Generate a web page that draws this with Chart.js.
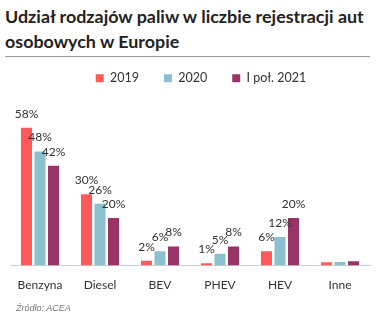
<!DOCTYPE html>
<html lang="pl">
<head>
<meta charset="utf-8">
<script src="https://cdn.jsdelivr.net/npm/chart.js@4"></script>
<style>
  html, body { margin: 0; padding: 0; background: #fff; }
  body { width: 376px; height: 330px; position: relative; overflow: hidden; font-family: Lato, "Open Sans", sans-serif; }
  #title {
    position: absolute; left: 5px; top: 4px; width: 368px;
    font-family: Lato, sans-serif; font-weight: 700; font-size: 17.9px; line-height: 25px;
    color: #222; margin: 0;
  }
  #rule { position: absolute; left: 5px; top: 56px; width: 365px; height: 0; border-top: 1px solid #9a9a9a; }
  #wrap { position: absolute; left: 0; top: 47px; width: 376px; height: 257px; }
  #source {
    position: absolute; left: 16px; top: 303px;
    font-family: "Liberation Sans", Arial, sans-serif; font-style: italic; font-size: 9px; color: #777;
  }
</style>
</head>
<body>
<h1 id="title">Udział rodzajów paliw w liczbie rejestracji aut osobowych w Europie</h1>
<div id="rule"></div>
<div id="wrap"><canvas id="chart"></canvas></div>
<div id="source">Źródło: ACEA</div>
<script>
// Fuel types (categories)
const categories = ["Benzyna", "Diesel", "BEV", "PHEV", "HEV", "Inne"];
// Share of new passenger-car registrations, %
const share2019 = [58, 30, 2, 1, 6, 1.4];
const share2020 = [48, 26, 6, 5, 12, 1.5];
const shareH1_2021 = [42, 20, 8, 8, 20, 1.8];
// Series names
const seriesNames = ["2019", "2020", "I poł. 2021"];
// Categories whose values are not printed above the bars
const unlabeledCategories = ["Inne"];

const colors = ["#ff5a5a", "#8cc0cf", "#9b3466"];

// Draws the percentage value above each bar
const valueLabels = {
  id: "valueLabels",
  afterDatasetsDraw(chart) {
    const ctx = chart.ctx;
    ctx.save();
    ctx.font = "12px Lato, sans-serif";
    ctx.fillStyle = "#333";
    ctx.textAlign = "center";
    ctx.textBaseline = "middle";
    chart.data.datasets.forEach((ds, di) => {
      const meta = chart.getDatasetMeta(di);
      meta.data.forEach((bar, i) => {
        if (unlabeledCategories.includes(categories[i])) return;
        ctx.fillText(Math.round(ds.data[i]) + "%", bar.x, bar.y - 14);
      });
    });
    ctx.restore();
  }
};

// The legend row is centred including its trailing item padding; nudge it right
const legendNudge = {
  id: "legendNudge",
  afterLayout(chart) {
    const lg = chart.legend;
    if (lg) { lg.left += 11; lg.right += 11; }
  }
};

new Chart(document.getElementById("chart"), {
  type: "bar",
  data: {
    labels: categories,
    datasets: [share2019, share2020, shareH1_2021].map((d, i) => ({
      label: seriesNames[i],
      data: d,
      backgroundColor: colors[i],
      categoryPercentage: 0.675,
      barPercentage: 0.82
    }))
  },
  options: {
    responsive: true,
    maintainAspectRatio: false,
    animation: false,
    layout: { padding: { left: 10, right: 6, top: 0, bottom: 0 } },
    plugins: {
      legend: {
        position: "top",
        labels: {
          boxWidth: 8, boxHeight: 8, padding: 25,
          color: "#333",
          font: { family: "Lato, sans-serif", size: 12.5 }
        }
      },
      tooltip: { enabled: false }
    },
    scales: {
      x: {
        grid: { display: false, drawTicks: false },
        border: { color: "#cfcfcf" },
        ticks: { color: "#333", padding: 12, font: { family: "Lato, sans-serif", size: 12 } }
      },
      y: {
        display: false,
        min: 0,
        max: 72
      }
    }
  },
  plugins: [valueLabels, legendNudge]
});
</script>
</body>
</html>
